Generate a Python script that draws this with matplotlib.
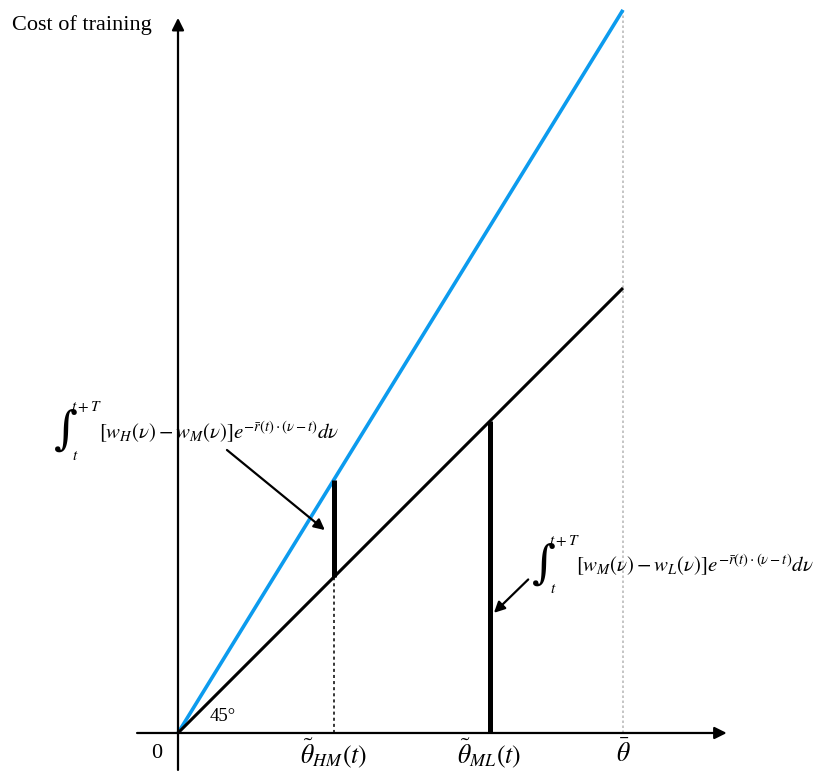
import matplotlib
matplotlib.use("Agg")
import matplotlib.pyplot as plt

plt.rcParams['font.family'] = ['Liberation Serif', 'DejaVu Serif']
plt.rcParams['mathtext.fontset'] = 'stix'

# model quantities (theta_bar normalised to 1)
theta_bar = 1.0
theta_hm = 0.35
theta_ml = 0.70
slope_low = 1.0      # 45 degree line
slope_high = 1.625   # blue line
x_ends = [0.0, theta_bar]

tick_pos = [theta_hm, theta_ml, theta_bar]
tick_labels = [r'$\tilde{\theta}_{HM}(t)$', r'$\tilde{\theta}_{ML}(t)$', r'$\bar{\theta}$']

body_hm = r'$[w_H(\nu)-w_M(\nu)]e^{-\bar{r}(t)\cdot(\nu-t)}d\nu$'
body_ml = r'$[w_M(\nu)-w_L(\nu)]e^{-\bar{r}(t)\cdot(\nu-t)}d\nu$'

BLUE = '#0C9BEE'

fig = plt.figure(figsize=(8.14, 7.77), dpi=100)
ax = fig.add_axes([0, 0, 1, 1])
ax.set_xlim(-0.4, 1.4292)
ax.set_ylim(-0.0989, 1.6472)
ax.axis('off')

top = slope_high * theta_bar
arrow_kw = dict(arrowstyle='-|>', color='black', lw=1.6, mutation_scale=18,
                shrinkA=0, shrinkB=0)

# axes with arrows
ax.annotate('', xy=(1.233, 0), xytext=(-0.092, 0), arrowprops=arrow_kw)
ax.annotate('', xy=(0, 1.607), xytext=(0, -0.083), arrowprops=arrow_kw)

# theta_bar gray dotted guide
ax.plot([theta_bar, theta_bar], [0, top], color='#bbbbbb', lw=1.2, ls=(0, (1.5, 1.5)))

# lines
ax.plot(x_ends, [slope_high * x for x in x_ends], color=BLUE, lw=2.6, solid_capstyle='butt')
ax.plot(x_ends, [slope_low * x for x in x_ends], color='black', lw=2.2, solid_capstyle='butt')

# gaps
ax.plot([theta_hm, theta_hm], [slope_low * theta_hm, slope_high * theta_hm],
        color='black', lw=3.6, solid_capstyle='butt')
ax.plot([theta_hm, theta_hm], [0, slope_low * theta_hm], color='black', lw=1.1,
        ls=(0, (2, 2)))
ax.plot([theta_ml, theta_ml], [0, slope_low * theta_ml], color='black', lw=3.6,
        solid_capstyle='butt')

# tick labels
for x, lab in zip(tick_pos, tick_labels):
    ax.text(x, -0.045, lab, ha='center', va='center', fontsize=18.5)
ax.text(-0.047, -0.045, '0', ha='center', va='center', fontsize=16)
ax.text(0.1, 0.036, '45°', ha='center', va='center', fontsize=13.5)
ax.text(-0.373, 1.59, 'Cost of training', ha='left', va='center', fontsize=16)


def integral_label(x0, yc, body):
    # tall upright integral sign with limits, then the integrand
    ax.text(x0, yc, '\u222b', ha='left', va='center', fontsize=33, family='DejaVu Serif')
    ax.text(x0 + 0.038, yc + 0.055, r'$t+T$', ha='left', va='center', fontsize=11)
    ax.text(x0 + 0.040, yc - 0.056, r'$t$', ha='left', va='center', fontsize=11)
    ax.text(x0 + 0.1, yc - 0.002, body, ha='left', va='center', fontsize=15)


integral_label(-0.278, 0.678, body_hm)
ax.annotate('', xy=(0.33, 0.456), xytext=(0.11, 0.636),
            arrowprops=dict(arrow_kw, mutation_scale=16))
integral_label(0.795, 0.378, body_ml)
ax.annotate('', xy=(0.71, 0.27), xytext=(0.787, 0.345),
            arrowprops=dict(arrow_kw, mutation_scale=16))

fig.savefig('out.png', dpi=100)
